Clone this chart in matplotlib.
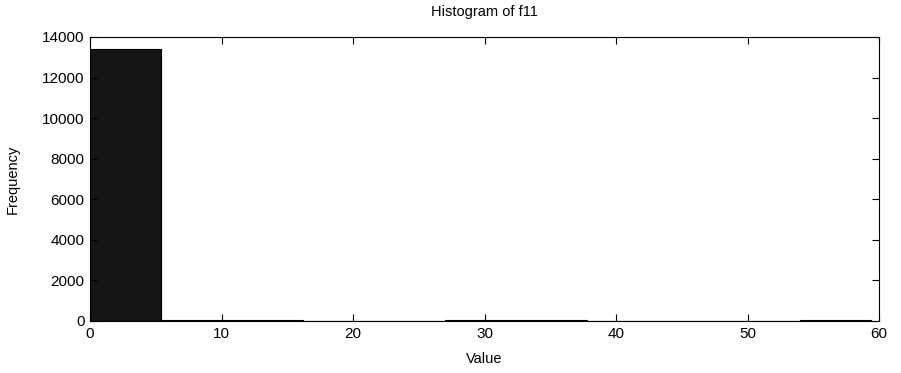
import matplotlib
matplotlib.use("Agg")
import matplotlib.pyplot as plt
import numpy as np

# histogram of f11: 11 equal bins over 0..59.4
bin_edges = [0, 5.4, 10.8, 16.2, 21.6, 27.0, 32.4, 37.8, 43.2, 48.6, 54.0, 59.4]
counts = [13400, 70, 55, 5, 3, 30, 45, 8, 3, 20, 25]
x_ticks = [0, 10, 20, 30, 40, 50, 60]
y_ticks = [0, 2000, 4000, 6000, 8000, 10000, 12000, 14000]

plt.rcParams['font.family'] = ['Liberation Sans', 'DejaVu Sans']

fig = plt.figure(figsize=(9.01, 3.73), dpi=100)
ax = fig.add_axes([90 / 901, 1 - 321 / 373, 789 / 901, 284 / 373])

widths = np.diff(bin_edges)
ax.bar(bin_edges[:-1], counts, width=widths, align='edge',
       color='#151515', edgecolor='#000000', linewidth=0.8)

ax.set_xlim(0, 60)
ax.set_ylim(0, 14000)
ax.set_xticks(x_ticks)
ax.set_yticks(y_ticks)
ax.tick_params(direction='in', top=True, right=True, length=5, width=0.8,
               labelsize=11, pad=4)
for s in ax.spines.values():
    s.set_linewidth(0.8)

ax.set_title("Histogram of f11", fontsize=10.5, pad=15)
ax.set_xlabel("Value", fontsize=10.5, labelpad=8)
ax.set_ylabel("Frequency", fontsize=10.5, labelpad=16)

fig.savefig("out.png", dpi=100)
